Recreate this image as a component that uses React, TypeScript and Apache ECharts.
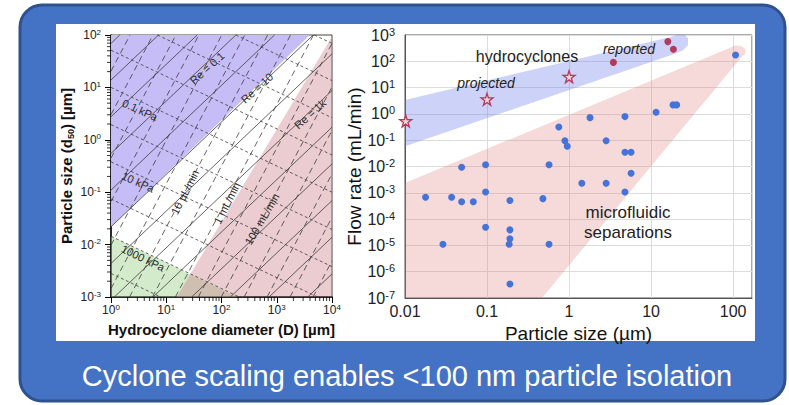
import React, { useEffect, useRef } from "react";
import * as echarts from "echarts";

const W = 789;
const H = 405;
const FONT = "'Liberation Sans', Arial, Helvetica, sans-serif";

// ---------------- Left chart (log10 D [µm] vs log10 d50 [µm]) ----------------
const leftXExtent = [0, 4];
const leftYExtent = [-3, 2];

// shaded regions, vertices in (log10 D, log10 d50)
const lowPressureRegion: number[][] = [[0, -1.66], [3.6, 2], [0, 2]];
const highFlowRegion: number[][] = [[1.19, -3], [3.91, 1.81], [4, 1.97], [4, -3]];
const highPressureRegion: number[][] = [[0, -1.84], [2.28, -3], [0, -3]];

// iso-lines: slope in log-log space, and log10 d50 where each line crosses D = 1 µm
const reSlope = 1.0;
const reLogD50AtD1 = [1.84, 1.14, 0.44, -0.26, -0.96, -1.66, -2.36, -3.06, -3.76, -4.46, -5.16, -5.86, -6.56];
const flowSlope = 2.0;
const flowLogD50AtD1 = [1.31, 0.48, -0.35, -1.18, -2.01, -2.84, -3.67, -4.5, -5.33, -6.16, -6.99, -7.82, -8.65, -9.48, -10.31];
const pressureSlope = -0.5;
const pressureLogD50AtD1 = [3.84, 3.13, 2.42, 1.71, 1.0, 0.29, -0.42, -1.13, -1.84, -2.55];

// ---------------- Right chart (particle size µm vs flow rate mL/min) ----------------
const rightXExtent = [-2, 2.23];
const rightYExtent = [-7, 3];
const rightXTickLabels: Record<string, string> = { "-2": "0.01", "-1": "0.1", "0": "1", "1": "10", "2": "100" };

const microfluidicPoints: number[][] = [
  [107, 174], [18.5, 2.2], [20.5, 2.2], [11.5, 1.15], [1.8, 0.72], [4.8, 0.79],
  [0.75, 0.32], [0.89, 0.095], [0.95, 0.059], [2.83, 0.095], [4.8, 0.035], [5.7, 0.035],
  [5.7, 0.0055], [0.57, 0.0117], [0.096, 0.0117], [0.049, 0.0093], [1.43, 0.0023], [2.83, 0.0023],
  [4.8, 0.00107], [0.096, 0.00107], [0.0178, 0.00068], [0.037, 0.00068], [0.049, 0.00046],
  [0.068, 0.00046], [0.19, 0.00051], [0.48, 0.0006], [0.096, 4.9e-5], [0.19, 3.9e-5],
  [0.19, 1.8e-5], [0.186, 1.1e-5], [0.029, 1.1e-5], [0.57, 1.1e-5], [0.19, 3.4e-7],
];
const reportedPoints: number[][] = [[16, 560], [18.7, 285], [3.47, 91]];
const projectedPoints: number[][] = [[0.0102, 0.54], [0.1, 3.6], [1, 26]];

// shaded bands, vertices in (log10 size, log10 flow)
const hydrocycloneBand: number[][] = [
  [-2.3, 0.31], [1.25, 2.93], [1.33, 3.02], [1.4, 3.04], [1.45, 2.88], [1.45, 2.62], [1.39, 2.42], [1.3, 2.3], [-2.3, -1.55],
];
const microfluidicBand: number[][] = [
  [-2.3, -3.02], [1.95, 2.5], [2.02, 2.6], [2.1, 2.58], [2.15, 2.46], [2.15, 2.3], [2.1, 2.15], [-0.33, -7], [-0.45, -7.5], [-2.3, -7.5],
];

// ---------------- geometry helpers ----------------
function interX(a: number[], b: number[], x: number) {
  const t = (x - a[0]) / (b[0] - a[0]);
  return [x, a[1] + t * (b[1] - a[1])];
}
function interY(a: number[], b: number[], y: number) {
  const t = (y - a[1]) / (b[1] - a[1]);
  return [a[0] + t * (b[0] - a[0]), y];
}
function clipPolygon(pts: number[][], xe: number[], ye: number[]) {
  const planes = [
    { inside: (p: number[]) => p[0] >= xe[0], cut: (a: number[], b: number[]) => interX(a, b, xe[0]) },
    { inside: (p: number[]) => p[0] <= xe[1], cut: (a: number[], b: number[]) => interX(a, b, xe[1]) },
    { inside: (p: number[]) => p[1] >= ye[0], cut: (a: number[], b: number[]) => interY(a, b, ye[0]) },
    { inside: (p: number[]) => p[1] <= ye[1], cut: (a: number[], b: number[]) => interY(a, b, ye[1]) },
  ];
  let out = pts;
  for (const pl of planes) {
    const input = out;
    out = [];
    for (let i = 0; i < input.length; i++) {
      const cur = input[i];
      const prev = input[(i + input.length - 1) % input.length];
      const ci = pl.inside(cur);
      const pi = pl.inside(prev);
      if (ci) {
        if (!pi) out.push(pl.cut(prev, cur));
        out.push(cur);
      } else if (pi) {
        out.push(pl.cut(prev, cur));
      }
    }
    if (!out.length) break;
  }
  return out;
}
function clipSegment(x1: number, y1: number, x2: number, y2: number, xe: number[], ye: number[]) {
  let t0 = 0, t1 = 1;
  const dx = x2 - x1, dy = y2 - y1;
  const p = [-dx, dx, -dy, dy];
  const q = [x1 - xe[0], xe[1] - x1, y1 - ye[0], ye[1] - y1];
  for (let i = 0; i < 4; i++) {
    if (p[i] === 0) {
      if (q[i] < 0) return null;
    } else {
      const r = q[i] / p[i];
      if (p[i] < 0) { if (r > t1) return null; if (r > t0) t0 = r; }
      else { if (r < t0) return null; if (r < t1) t1 = r; }
    }
  }
  return [x1 + t0 * dx, y1 + t0 * dy, x1 + t1 * dx, y1 + t1 * dy];
}

type Seg = { s: number[]; dash: number[] | null };
function buildFamily(slope: number, cs: number[], dash: number[] | null): Seg[] {
  const out: Seg[] = [];
  for (const c of cs) {
    const s = clipSegment(-1, c - slope, 5, c + 5 * slope, leftXExtent, leftYExtent);
    if (s) out.push({ s, dash });
  }
  return out;
}

const leftRegions = [
  { pts: lowPressureRegion, color: "#C6BCF6" },
  { pts: highPressureRegion, color: "rgba(160,210,140,0.45)" },
  { pts: highFlowRegion, color: "rgba(200,120,135,0.38)" },
];

function buildOption() {
  const leftSegs: Seg[] = [
    ...buildFamily(reSlope, reLogD50AtD1, null),
    ...buildFamily(flowSlope, flowLogD50AtD1, [6, 4]),
    ...buildFamily(pressureSlope, pressureLogD50AtD1, [3, 2.5]),
  ];

  const minorX: number[] = [];
  for (let n = leftXExtent[0]; n < leftXExtent[1]; n++) for (let k = 2; k <= 9; k++) minorX.push(n + Math.log10(k));
  const minorY: number[] = [];
  for (let n = leftYExtent[0]; n < leftYExtent[1]; n++) for (let k = 2; k <= 9; k++) minorY.push(n + Math.log10(k));
  const minorTicks = [...minorX.map((v) => ["x", v]), ...minorY.map((v) => ["y", v])];

  const bands = [
    { pts: clipPolygon(microfluidicBand, rightXExtent, rightYExtent), color: "rgba(225,130,130,0.3)" },
    { pts: clipPolygon(hydrocycloneBand, rightXExtent, rightYExtent), color: "rgba(100,115,235,0.32)" },
  ];

  const leftTickLabel = (v: number) => `10{s|${v}}`;
  const rightYLabel = (v: number) => (Number.isInteger(v) ? `10{s|${v}}` : "");
  const logPts = (arr: number[][]) => arr.map((p) => [Math.log10(p[0]), Math.log10(p[1])]);

  const textEl = (text: string, x: number, y: number, rot: number, size = 11, style = "normal", fill = "#2a2a2a") => ({
    type: "text",
    x,
    y,
    rotation: (rot * Math.PI) / 180,
    z: 50,
    style: {
      text,
      fill,
      fontSize: size,
      fontFamily: FONT,
      fontStyle: style,
      align: "center",
      verticalAlign: "middle",
    },
  });

  return {
    animation: false,
    backgroundColor: "#ffffff",
    graphic: {
      elements: [
        {
          type: "rect",
          z: -100,
          shape: { x: 20, y: 5, width: 765, height: 396, r: 22 },
          style: { fill: "#4472C4", stroke: "#2F528F", lineWidth: 3 },
        },
        { type: "rect", z: -99, shape: { x: 56, y: 24, width: 699, height: 317 }, style: { fill: "#ffffff" } },
        {
          type: "text",
          z: 50,
          x: 407,
          y: 376,
          style: {
            text: "Cyclone scaling enables <100 nm particle isolation",
            fill: "#ffffff",
            fontSize: 29,
            fontFamily: FONT,
            align: "center",
            verticalAlign: "middle",
          },
        },
        textEl("Re = 0.1", 207, 68, 42),
        textEl("Re = 10", 257, 88, 42),
        textEl("Re = 1k", 310, 114, 42),
        textEl("0.1 kPa", 140, 110, -24),
        textEl("10 kPa", 138, 182, -24),
        textEl("1000 kPa", 143, 258, -26),
        textEl("10 µL/min", 185, 192, 63),
        textEl("1 mL/min", 227, 203, 63),
        textEl("100 mL/min", 262, 219, 60),
        textEl("hydrocyclones", 527, 56, 0, 16, "normal", "#222"),
        textEl("projected", 486, 83, 0, 14, "italic", "#222"),
        textEl("reported", 629, 49, 0, 14, "italic", "#222"),
        textEl("microfluidic", 628, 212, 0, 17, "normal", "#222"),
        textEl("separations", 628, 232, 0, 17, "normal", "#222"),
      ],
    },
    grid: [
      { left: 111, top: 35, width: 221, height: 262, show: true, borderColor: "#444", borderWidth: 1, backgroundColor: "transparent" },
      { left: 405, top: 35, width: 347, height: 263, show: true, borderColor: "#555", borderWidth: 1, backgroundColor: "transparent" },
    ],
    xAxis: [
      {
        gridIndex: 0,
        type: "value",
        min: leftXExtent[0],
        max: leftXExtent[1],
        interval: 1,
        axisLine: { show: true, onZero: false, lineStyle: { color: "#000", width: 1.5 } },
        axisTick: { show: true, inside: false, length: 6, lineStyle: { color: "#000", width: 1 } },
        splitLine: { show: false },
        axisLabel: {
          formatter: leftTickLabel,
          color: "#222",
          fontSize: 12,
          fontFamily: FONT,
          margin: 6,
          lineHeight: 14,
          rich: { s: { fontSize: 8, fontFamily: FONT, color: "#222", verticalAlign: "top", lineHeight: 14 } },
        },
        name: "Hydrocyclone diameter (D) [µm]",
        nameLocation: "middle",
        nameGap: 21,
        nameTextStyle: { fontSize: 15, fontWeight: "bold", fontFamily: FONT, color: "#111" },
      },
      {
        gridIndex: 1,
        type: "value",
        min: rightXExtent[0],
        max: rightXExtent[1],
        interval: 1,
        axisLine: { show: true, onZero: false, lineStyle: { color: "#555", width: 1 } },
        axisTick: { show: false },
        splitLine: { show: true, lineStyle: { color: "#dcdcdc", width: 1 } },
        axisLabel: {
          formatter: (v: number) => rightXTickLabels[String(v)] ?? "",
          color: "#222",
          fontSize: 16,
          fontFamily: FONT,
          margin: 5,
        },
        name: "Particle size (µm)",
        nameLocation: "middle",
        nameGap: 17,
        nameTextStyle: { fontSize: 19, fontFamily: FONT, color: "#111" },
      },
    ],
    yAxis: [
      {
        gridIndex: 0,
        type: "value",
        min: leftYExtent[0],
        max: leftYExtent[1],
        interval: 1,
        axisLine: { show: true, onZero: false, lineStyle: { color: "#000", width: 1.5 } },
        axisTick: { show: true, inside: false, length: 6, lineStyle: { color: "#000", width: 1 } },
        splitLine: { show: false },
        axisLabel: {
          formatter: leftTickLabel,
          color: "#222",
          fontSize: 12,
          fontFamily: FONT,
          margin: 10,
          lineHeight: 14,
          rich: { s: { fontSize: 8, fontFamily: FONT, color: "#222", verticalAlign: "top", lineHeight: 14 } },
        },
        name: "Particle size (d{sub|50}) [µm]",
        nameLocation: "middle",
        nameGap: 36,
        nameTextStyle: {
          fontSize: 15,
          fontWeight: "bold",
          fontFamily: FONT,
          color: "#111",
          lineHeight: 18,
          rich: { sub: { fontSize: 9, fontWeight: "bold", fontFamily: FONT, color: "#111", verticalAlign: "bottom", lineHeight: 18 } },
        },
      },
      {
        gridIndex: 1,
        type: "value",
        min: rightYExtent[0],
        max: rightYExtent[1],
        interval: 1,
        axisLine: { show: true, onZero: false, lineStyle: { color: "#555", width: 1 } },
        axisTick: { show: false },
        splitLine: { show: true, lineStyle: { color: "#dcdcdc", width: 1 } },
        axisLabel: {
          formatter: rightYLabel,
          color: "#222",
          fontSize: 16,
          fontFamily: FONT,
          margin: 10,
          lineHeight: 18,
          rich: { s: { fontSize: 11, fontFamily: FONT, color: "#222", verticalAlign: "top", lineHeight: 18 } },
        },
        name: "Flow rate (mL/min)",
        nameLocation: "middle",
        nameGap: 40,
        nameTextStyle: { fontSize: 19, fontFamily: FONT, color: "#111" },
      },
    ],
    series: [
      {
        type: "custom",
        name: "regions",
        xAxisIndex: 0,
        yAxisIndex: 0,
        z: 1,
        data: leftRegions.map((_, i) => [i]),
        renderItem: (params: any, api: any) => {
          const r = leftRegions[params.dataIndex];
          const pts = clipPolygon(r.pts, leftXExtent, leftYExtent).map((p) => api.coord(p));
          return { type: "polygon", shape: { points: pts }, style: { fill: r.color } };
        },
      },
      {
        type: "custom",
        name: "isolines",
        xAxisIndex: 0,
        yAxisIndex: 0,
        z: 3,
        data: leftSegs.map((_, i) => [i]),
        renderItem: (params: any, api: any) => {
          const g = leftSegs[params.dataIndex];
          const a = api.coord([g.s[0], g.s[1]]);
          const b = api.coord([g.s[2], g.s[3]]);
          return {
            type: "line",
            shape: { x1: a[0], y1: a[1], x2: b[0], y2: b[1] },
            style: { stroke: "#3c3c3c", lineWidth: 0.8, lineDash: g.dash ?? undefined, fill: null },
          };
        },
      },
      {
        type: "custom",
        name: "minorTicks",
        xAxisIndex: 0,
        yAxisIndex: 0,
        z: 4,
        data: minorTicks.map((_, i) => [i]),
        renderItem: (params: any, api: any) => {
          const [axis, v] = minorTicks[params.dataIndex] as [string, number];
          if (axis === "x") {
            const p = api.coord([v, leftYExtent[0]]);
            return { type: "line", shape: { x1: p[0], y1: p[1], x2: p[0], y2: p[1] + 4 }, style: { stroke: "#000", lineWidth: 0.8 } };
          }
          const p = api.coord([leftXExtent[0], v]);
          return { type: "line", shape: { x1: p[0], y1: p[1], x2: p[0] - 4, y2: p[1] }, style: { stroke: "#000", lineWidth: 0.8 } };
        },
      },
      {
        type: "custom",
        name: "bands",
        xAxisIndex: 1,
        yAxisIndex: 1,
        z: 1,
        data: bands.map((_, i) => [i]),
        renderItem: (params: any, api: any) => {
          const b = bands[params.dataIndex];
          return { type: "polygon", shape: { points: b.pts.map((p) => api.coord(p)) }, style: { fill: b.color } };
        },
      },
      {
        type: "scatter",
        name: "microfluidic",
        xAxisIndex: 1,
        yAxisIndex: 1,
        z: 5,
        clip: false,
        symbolSize: 7,
        itemStyle: { color: "#4473D9", opacity: 1 },
        data: logPts(microfluidicPoints),
      },
      {
        type: "scatter",
        name: "reported",
        xAxisIndex: 1,
        yAxisIndex: 1,
        z: 5,
        clip: false,
        symbolSize: 7,
        itemStyle: { color: "#B23A5C", opacity: 1 },
        data: logPts(reportedPoints),
      },
      {
        type: "scatter",
        name: "projected",
        xAxisIndex: 1,
        yAxisIndex: 1,
        z: 6,
        clip: false,
        symbol: "path://M50,0 L61,35 L98,35 L68,57 L79,91 L50,70 L21,91 L32,57 L2,35 L39,35 Z",
        symbolSize: 12,
        itemStyle: { color: "#F5D3DA", borderColor: "#B23A5C", borderWidth: 1.3, opacity: 1 },
        data: logPts(projectedPoints),
      },
    ],
  };
}

export default function App() {
  const ref = useRef<HTMLDivElement>(null);
  useEffect(() => {
    if (!ref.current) return;
    const chart = echarts.init(ref.current, null, { renderer: "svg", width: W, height: H });
    chart.setOption(buildOption() as any);
    return () => chart.dispose();
  }, []);
  return <div ref={ref} style={{ position: "fixed", left: 0, top: 0, width: W, height: H }} />;
}
